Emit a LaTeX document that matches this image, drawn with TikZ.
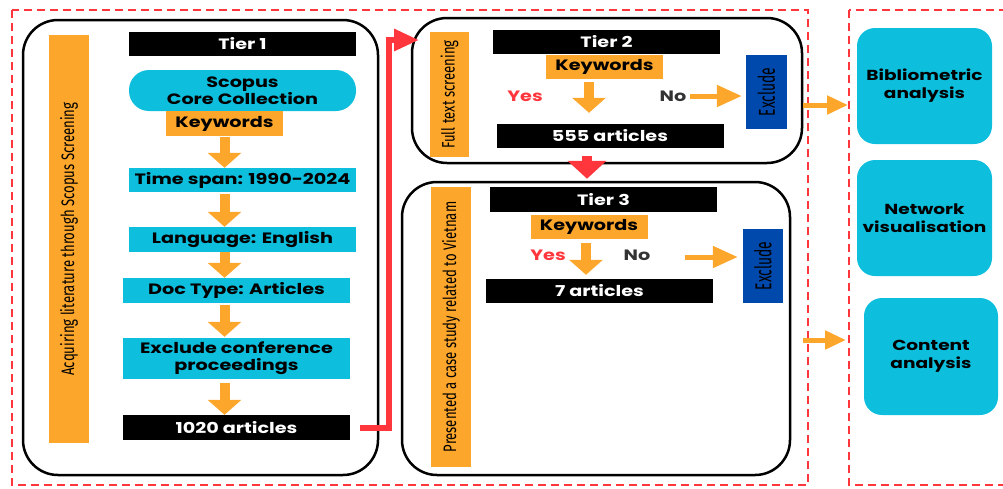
\documentclass[tikz,border=0pt]{standalone}
\usepackage{fontspec}
\setmainfont[FakeStretch=1.28]{Poppins}
\newfontfamily\condfont[FakeStretch=0.73]{Fira Sans}
\newfontfamily\narrowfont[FakeStretch=0.6]{Fira Sans}
\usetikzlibrary{arrows.meta,calc}
\definecolor{flowOrange}{HTML}{FCA62C}
\definecolor{flowCyan}{HTML}{0EBEDD}
\definecolor{flowBlue}{HTML}{0049AC}
\definecolor{flowRed}{HTML}{FF363C}
\definecolor{flowGrey}{HTML}{333333}
\begin{document}
\begin{tikzpicture}[x=1pt,y=-1pt,font=\fontsize{15}{17}\selectfont\bfseries,
    blackbar/.style={fill=black,text=white,minimum width=227pt,minimum height=24pt,inner sep=0pt},
    cyanbox/.style={fill=flowCyan,text=black,minimum width=227pt,minimum height=25pt,inner sep=0pt,align=center},
    kwbox/.style={fill=flowOrange,text=black,minimum width=117pt,minimum height=24pt,inner sep=0pt},
    sidebar/.style={fill=flowOrange,text=black,rotate=90,inner sep=0pt,font=\condfont\fontsize{18}{20}\selectfont},
    exbox/.style={fill=flowBlue,text=black,rotate=90,inner sep=0pt,minimum width=74pt,minimum height=41pt,font=\narrowfont\fontsize{23}{25}\selectfont},
    tierframe/.style={draw=black,line width=2.5pt,rounded corners=35pt,inner sep=0pt},
    resultbox/.style={fill=flowCyan,text=black,rounded corners=18pt,minimum width=135pt,minimum height=116pt,align=center,font=\fontsize{14.5}{18}\selectfont\bfseries},
    reddash/.style={draw=flowRed,line width=2.5pt,dash pattern=on 8pt off 5pt},
    downarrow/.style={draw=flowOrange,line width=10pt,-{Triangle[length=15pt,width=33pt]}},
    sidearrow/.style={draw=flowOrange,line width=5pt,-{Triangle[length=25pt,width=21pt]}},
    outarrow/.style={draw=flowOrange,line width=5pt,-{Triangle[length=21pt,width=18pt]}},
    redflow/.style={draw=flowRed,line width=6pt,-{Triangle[length=25pt,width=21pt]}}]
  \useasboundingbox (0,0) rectangle (1003,488);

  % dashed frames
  \draw[reddash] (12,10) rectangle (808,485);
  \draw[reddash] (849,10) rectangle (1012,485);

  % Tier 1
  \node[tierframe,minimum width=355pt,minimum height=455pt] (frame1) at (200.5,247.5) {};
  \node[sidebar,minimum width=408pt,minimum height=40pt] (side1) at (69,239) {Acquiring literature through Scopus Screening};
  \node[blackbar] (tier1) at (242.5,44) {Tier 1};
  \node[cyanbox,minimum height=41pt,rounded corners=20pt] (scopus) at (242.5,90.5) {Scopus\\Core Collection};
  \node[kwbox,minimum height=25pt] (kw1) at (224.5,123.5) {Keywords};
  \node[cyanbox,minimum height=24pt] (span) at (242.5,180) {Time span: 1990-2024};
  \node[cyanbox] (lang) at (242.5,239.5) {Language: English};
  \node[cyanbox] (doctype) at (236.5,290.5) {Doc Type: Articles};
  \node[cyanbox,minimum height=41pt] (confp) at (236.5,358.5) {Exclude conference\\proceedings};
  \node[blackbar,minimum height=25pt] (n1020) at (236.5,427.5) {1020 articles};

  \draw[downarrow] ([yshift=-1pt]kw1.south) -- (kw1.south |- span.north);
  \draw[downarrow] ([yshift=-2pt]span.south -| kw1.south) -- (kw1.south |- lang.north);
  \draw[downarrow] (lang.south -| kw1.south) -- (kw1.south |- doctype.north);
  \draw[downarrow] ([yshift=-2pt]doctype.south -| kw1.south) -- ([yshift=1pt]kw1.south |- confp.north);
  \draw[downarrow] ([yshift=-4pt]confp.south -| kw1.south) -- (kw1.south |- n1020.north);

  % Tier 2
  \node[tierframe,minimum width=390pt,minimum height=145pt] (frame2) at (607,90.5) {};
  \node[sidebar,minimum width=125pt,minimum height=39pt] (side2) at (449.5,94.5) {Full text screening};
  \node[blackbar] (tier2) at (606.5,42) {Tier 2};
  \node[kwbox] (kw2) at (604.5,67) {Keywords};
  \node[text=flowRed] (yes2) at (525,96) {Yes};
  \node[text=flowGrey] (no2) at (673,96) {No};
  \node[exbox] (ex2) at (766.5,92) {Exclude};
  \node[blackbar] (n555) at (610,136) {555 articles};
  \draw[downarrow] ($(kw2.south)+(-15.5,3)$) -- ($(kw2.south |- n555.north)+(-15.5,-11)$);
  \draw[sidearrow] (690,96) -- ([xshift=-4pt]ex2.north |- no2.east);
  \coordinate (t2in) at (419,40);
  \draw[redflow] ([xshift=10pt]n1020.east) -| (389,40) -- (t2in);

  % Tier 3
  \node[tierframe,minimum width=388pt,minimum height=293pt] (frame3) at (596,328.5) {};
  \node[sidebar,minimum width=280pt,minimum height=40pt] (side3) at (451,327) {Presented a case study related to Vietnam};
  \node[blackbar,minimum height=25pt] (tier3) at (603.5,199.5) {Tier 3};
  \node[kwbox] (kw3) at (589,227) {Keywords};
  \node[text=flowRed] (yes3) at (548,255) {Yes};
  \node[text=flowGrey] (no3) at (637,255) {No};
  \node[exbox,minimum height=40pt] (ex3) at (763,266) {Exclude};
  \node[blackbar] (n7) at (599.5,291) {7 articles};
  \draw[downarrow] ($(kw3.south)+(-3,4)$) -- ($(kw3.south |- n7.north)+(-3,-4)$);
  \draw[sidearrow] (685,257) -- ([xshift=-5pt]ex3.north |- 0,257);
  \draw[redflow,line width=10pt,-{Triangle[length=18pt,width=38pt]}] ([xshift=-20pt,yshift=8pt]frame2.south) -- ([xshift=-9pt,yshift=2pt]frame3.north);

  % analyses
  \node[resultbox] (biblio) at (924.5,86) {Bibliometric\\analysis};
  \node[resultbox] (network) at (924.5,218) {Network\\visualisation};
  \node[resultbox,minimum width=134pt,minimum height=117pt] (content) at (931,356.5) {Content\\analysis};
  \coordinate (out1) at (803,105);
  \coordinate (in1) at (848,105);
  \coordinate (out2) at (803,340);
  \coordinate (in2) at (846,340);
  \draw[outarrow] (out1) -- (in1);
  \draw[outarrow] (out2) -- (in2);
\end{tikzpicture}
\end{document}
